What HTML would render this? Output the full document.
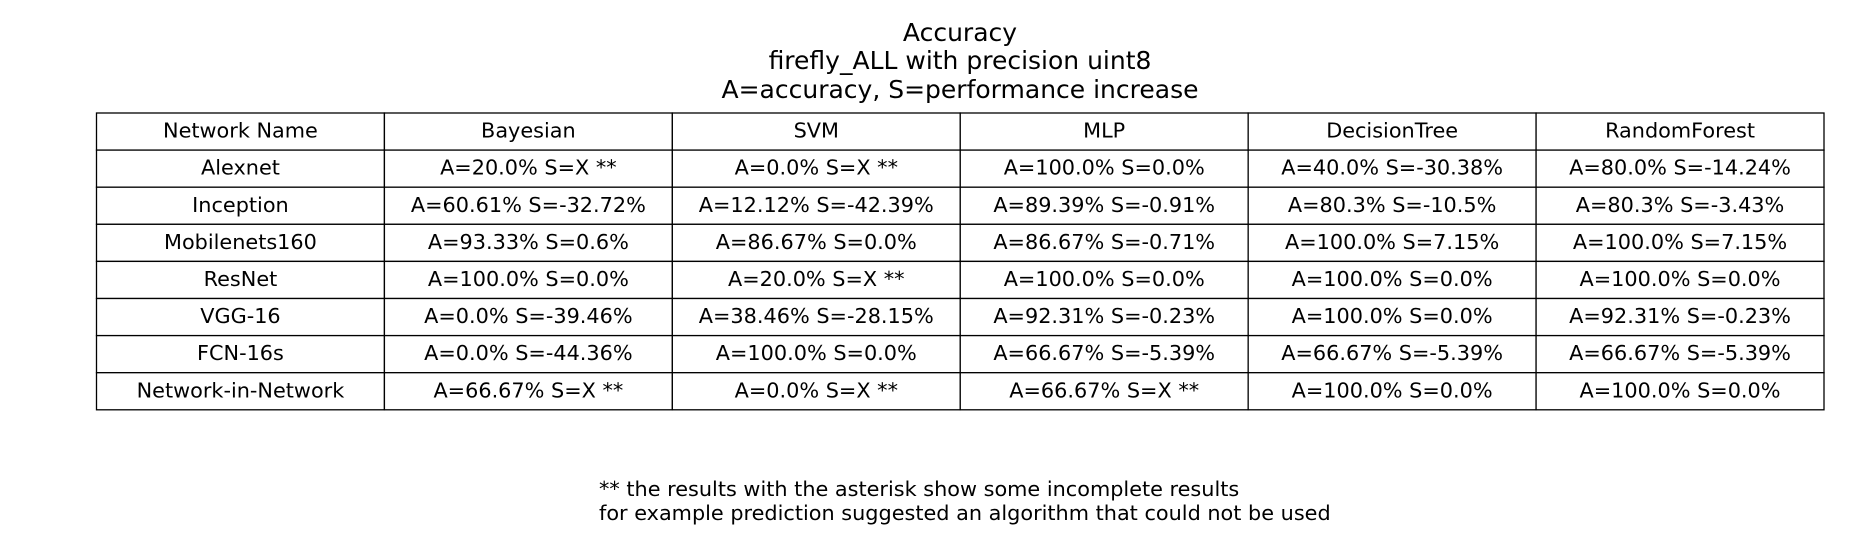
<!DOCTYPE html>
<html><head><meta charset="utf-8"><style>
html,body{margin:0;padding:0;background:#fff;}
svg{display:block;font-family:"DejaVu Sans","Liberation Sans",sans-serif;}
</style></head><body>
<svg width="1850" height="550" viewBox="0 0 1850 550">
<g font-size="25" text-anchor="middle" fill="#000">
<text x="960" y="41">Accuracy</text>
<text x="960" y="69">firefly_ALL with precision uint8</text>
<text x="960" y="98">A=accuracy, S=performance increase</text>
</g>
<g id="tbl"></g>
<g font-size="20.8" fill="#000">
<text x="599" y="496">** the results with the asterisk show some incomplete results</text>
<text x="599" y="520">for example prediction suggested an algorithm that could not be used</text>
</g>
</svg>
<script>
const headers = ["Network Name","Bayesian","SVM","MLP","DecisionTree","RandomForest"];
const networks = ["Alexnet","Inception","Mobilenets160","ResNet","VGG-16","FCN-16s","Network-in-Network"];
const bayesian = ["A=20.0% S=X **","A=60.61% S=-32.72%","A=93.33% S=0.6%","A=100.0% S=0.0%","A=0.0% S=-39.46%","A=0.0% S=-44.36%","A=66.67% S=X **"];
const svm = ["A=0.0% S=X **","A=12.12% S=-42.39%","A=86.67% S=0.0%","A=20.0% S=X **","A=38.46% S=-28.15%","A=100.0% S=0.0%","A=0.0% S=X **"];
const mlp = ["A=100.0% S=0.0%","A=89.39% S=-0.91%","A=86.67% S=-0.71%","A=100.0% S=0.0%","A=92.31% S=-0.23%","A=66.67% S=-5.39%","A=66.67% S=X **"];
const decisionTree = ["A=40.0% S=-30.38%","A=80.3% S=-10.5%","A=100.0% S=7.15%","A=100.0% S=0.0%","A=100.0% S=0.0%","A=66.67% S=-5.39%","A=100.0% S=0.0%"];
const randomForest = ["A=80.0% S=-14.24%","A=80.3% S=-3.43%","A=100.0% S=7.15%","A=100.0% S=0.0%","A=92.31% S=-0.23%","A=66.67% S=-5.39%","A=100.0% S=0.0%"];

const NS="http://www.w3.org/2000/svg";
const g=document.getElementById('tbl');
const x0=96.5,y0=113,cw=(1824-96.5)/6,rh=37.1;
const cols=[networks,bayesian,svm,mlp,decisionTree,randomForest];
const rows=[headers];
for(let r=0;r<networks.length;r++){rows.push(cols.map(c=>c[r]));}
rows.forEach((row,ri)=>{
  row.forEach((val,ci)=>{
    const rect=document.createElementNS(NS,'rect');
    rect.setAttribute('x',x0+ci*cw);rect.setAttribute('y',y0+ri*rh);
    rect.setAttribute('width',cw);rect.setAttribute('height',rh);
    rect.setAttribute('fill','#fff');rect.setAttribute('stroke','#000');rect.setAttribute('stroke-width','1.3');
    
    
    g.appendChild(rect);
    const t=document.createElementNS(NS,'text');
    t.setAttribute('x',x0+ci*cw+cw/2);t.setAttribute('y',y0+ri*rh+rh/2+6);
    t.setAttribute('text-anchor','middle');t.setAttribute('font-size','20.8');
    t.textContent=val;
    
    
    g.appendChild(t);
  });
});
</script>
</body></html>
